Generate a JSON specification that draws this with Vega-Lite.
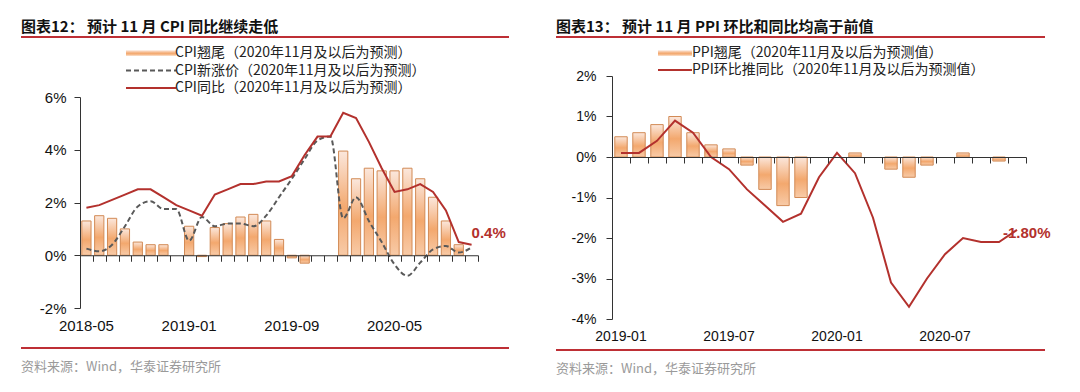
{
  "$schema": "https://vega.github.io/schema/vega-lite/v6.json",
  "background": "white",
  "padding": {"left": 20, "top": 20, "right": 0, "bottom": 0},
  "autosize": {"type": "pad"},
  "config": {"view": {"stroke": null}},
  "spacing": 45,
  "resolve": {"scale": {"x": "independent", "y": "independent", "stroke": "independent", "opacity": "independent", "strokeDash": "independent"}, "legend": {"stroke": "independent", "opacity": "independent", "strokeDash": "independent"}, "axis": {"x": "independent", "y": "independent"}},
  "hconcat": [
    {
      "spacing": 5,
      "resolve": {"scale": {"x": "independent", "y": "independent", "stroke": "independent", "opacity": "independent", "strokeDash": "independent"}, "legend": {"stroke": "independent", "opacity": "independent", "strokeDash": "independent"}, "axis": {"x": "independent", "y": "independent"}},
      "vconcat": [
        {
          "width": 488, "height": 4,
          "data": {"values": [{"part": "header"}]},
          "title": {"text": "图表12：  预计 11 月 CPI 同比继续走低", "anchor": "start", "frame": "group", "font": "Noto Sans CJK SC", "fontSize": 15, "fontWeight": "bold", "color": "#111111", "offset": 1},
          "mark": {"type": "rule", "color": "#be2f35", "strokeWidth": 2},
          "encoding": {"y": {"datum": 1, "type": "quantitative", "scale": {"domain": [0, 1]}, "axis": null}}
        },
        {
          "width": 488, "height": 211,
          "data": {"values": [
            {"month": "2018-05", "carry": 1.3, "newp": 0.25, "yoy": 1.8},
            {"month": "2018-06", "carry": 1.5, "newp": 0.15, "yoy": 1.9},
            {"month": "2018-07", "carry": 1.4, "newp": 0.4, "yoy": 2.1},
            {"month": "2018-08", "carry": 1.0, "newp": 1.1, "yoy": 2.3},
            {"month": "2018-09", "carry": 0.5, "newp": 1.85, "yoy": 2.5},
            {"month": "2018-10", "carry": 0.4, "newp": 2.05, "yoy": 2.5},
            {"month": "2018-11", "carry": 0.4, "newp": 1.75, "yoy": 2.2},
            {"month": "2018-12", "carry": null, "newp": 1.75, "yoy": 1.9},
            {"month": "2019-01", "carry": 1.1, "newp": 0.55, "yoy": 1.7},
            {"month": "2019-02", "carry": -0.05, "newp": 1.45, "yoy": 1.5},
            {"month": "2019-03", "carry": 1.05, "newp": 1.1, "yoy": 2.3},
            {"month": "2019-04", "carry": 1.2, "newp": 1.2, "yoy": 2.5},
            {"month": "2019-05", "carry": 1.45, "newp": 1.2, "yoy": 2.7},
            {"month": "2019-06", "carry": 1.55, "newp": 1.1, "yoy": 2.7},
            {"month": "2019-07", "carry": 1.3, "newp": 1.5, "yoy": 2.8},
            {"month": "2019-08", "carry": 0.6, "newp": 2.2, "yoy": 2.8},
            {"month": "2019-09", "carry": -0.1, "newp": 2.9, "yoy": 3.0},
            {"month": "2019-10", "carry": -0.3, "newp": 3.65, "yoy": 3.8},
            {"month": "2019-11", "carry": null, "newp": 4.35, "yoy": 4.5},
            {"month": "2019-12", "carry": null, "newp": 4.5, "yoy": 4.5},
            {"month": "2020-01", "carry": 3.95, "newp": 1.4, "yoy": 5.4},
            {"month": "2020-02", "carry": 2.9, "newp": 2.2, "yoy": 5.2},
            {"month": "2020-03", "carry": 3.3, "newp": 1.3, "yoy": 4.3},
            {"month": "2020-04", "carry": 3.2, "newp": 0.5, "yoy": 3.3},
            {"month": "2020-05", "carry": 3.2, "newp": -0.35, "yoy": 2.4},
            {"month": "2020-06", "carry": 3.3, "newp": -0.78, "yoy": 2.5},
            {"month": "2020-07", "carry": 2.9, "newp": -0.28, "yoy": 2.7},
            {"month": "2020-08", "carry": 2.2, "newp": 0.22, "yoy": 2.4},
            {"month": "2020-09", "carry": 1.3, "newp": 0.35, "yoy": 1.7},
            {"month": "2020-10", "carry": 0.4, "newp": 0.1, "yoy": 0.5},
            {"month": "2020-11", "carry": null, "newp": 0.3, "yoy": 0.4}
          ]},
          "resolve": {"axis": {"x": "independent"}},
          "layer": [
            {
              "mark": {"type": "bar", "width": {"band": 0.72}, "strokeWidth": 1, "stroke": "#d28a55",
                "fill": {"gradient": "linear", "x1": 0, "y1": 0, "x2": 0, "y2": 1, "stops": [{"offset": 0, "color": "#fbe7dc"}, {"offset": 0.55, "color": "#f3a86e"}, {"offset": 1, "color": "#f8cba8"}]}},
              "encoding": {
                "x": {"field": "month", "type": "ordinal", "sort": "ascending",
                  "scale": {"range": [59, 457], "paddingInner": 0, "paddingOuter": 0},
                  "axis": {"orient": "bottom", "title": null, "domain": false, "ticks": false, "grid": false, "labelAngle": 0, "labelPadding": 10, "labelOverlap": false, "values": ["2018-05", "2019-01", "2019-09", "2020-05"], "labelFont": "Liberation Sans", "labelFontSize": 15, "labelColor": "#111111"}},
                "y": {"field": "carry", "type": "quantitative", "title": null,
                  "scale": {"domain": [-2, 6], "nice": false, "zero": false},
                  "axis": {"orient": "left", "offset": -59, "title": null, "grid": false, "values": [-2, -1, 0, 1, 2, 3, 4, 5, 6], "labelOverlap": false, "labelExpr": "datum.value + '%'", "domainColor": "#333333", "tickColor": "#333333", "tickSize": 6, "labelPadding": 8, "labelFont": "Liberation Sans", "labelFontSize": 15, "labelColor": "#111111"}},
                "opacity": {"datum": "CPI翘尾（2020年11月及以后为预测）", "type": "nominal",
                  "scale": {"range": [1]},
                  "legend": {"orient": "none", "legendX": 103, "legendY": -51, "title": null, "padding": 0,
                    "symbolSize": 100, "symbolType": "M-5,-0.55H5V0.55H-5Z", "symbolOffset": 20, "labelOffset": 17,
                    "symbolStrokeColor": "#d28a55", "symbolStrokeWidth": 1,
                    "labelFont": "Noto Sans CJK SC", "labelFontSize": 14, "labelColor": "#222222", "labelLimit": 400}}
              }
            },
            {
              "mark": {"type": "line", "strokeWidth": 2, "stroke": "#595959", "interpolate": "monotone"},
              "encoding": {
                "x": {"field": "month", "type": "ordinal", "sort": "ascending",
                  "axis": {"orient": "bottom", "offset": -52.75, "title": null, "labels": false, "grid": false, "domain": true, "domainColor": "#333333", "ticks": true, "tickBand": "extent", "tickSize": 6, "tickColor": "#333333", "zindex": 1}},
                "y": {"field": "newp", "type": "quantitative", "title": null},
                "strokeDash": {"datum": "CPI新涨价（2020年11月及以后为预测）", "type": "nominal",
                  "scale": {"range": [[5, 3]]},
                  "legend": {"orient": "none", "legendX": 103, "legendY": -33.5, "title": null, "padding": 0,
                    "symbolSize": 100, "symbolType": "M-5,0H5", "symbolOffset": 20, "labelOffset": 17,
                    "symbolStrokeColor": "#595959", "symbolStrokeWidth": 2,
                    "labelFont": "Noto Sans CJK SC", "labelFontSize": 14, "labelColor": "#222222", "labelLimit": 400}}
              }
            },
            {
              "mark": {"type": "line", "strokeWidth": 2},
              "encoding": {
                "x": {"field": "month", "type": "ordinal", "sort": "ascending", "axis": null},
                "y": {"field": "yoy", "type": "quantitative", "title": null},
                "stroke": {"datum": "CPI同比（2020年11月及以后为预测）", "type": "nominal",
                  "scale": {"range": ["#b3312d"]},
                  "legend": {"orient": "none", "legendX": 103, "legendY": -16, "title": null, "padding": 0,
                    "symbolSize": 100, "symbolType": "M-5,0H5", "symbolOffset": 20, "labelOffset": 17,
                    "symbolStrokeWidth": 2,
                    "labelFont": "Noto Sans CJK SC", "labelFontSize": 14, "labelColor": "#222222", "labelLimit": 400}}
              }
            },
            {
              "transform": [{"filter": "datum.month === '2020-11'"}],
              "mark": {"type": "text", "align": "left", "baseline": "middle", "dx": 0, "dy": -12, "font": "Liberation Sans", "fontSize": 15, "fontWeight": "bold", "color": "#b3312d"},
              "encoding": {
                "x": {"field": "month", "type": "ordinal", "sort": "ascending", "axis": null},
                "y": {"field": "yoy", "type": "quantitative", "title": null},
                "text": {"value": "0.4%"}
              }
            }
          ]
        },
        {
          "width": 488, "height": 10,
          "data": {"values": [{"part": "footer"}]},
          "title": {"text": "资料来源：Wind，华泰证券研究所", "orient": "bottom", "anchor": "start", "frame": "group", "font": "Noto Sans CJK SC", "fontSize": 13, "fontWeight": "normal", "color": "#9a9a9a", "offset": 12},
          "mark": {"type": "rule", "color": "#be2f35", "strokeWidth": 2},
          "encoding": {"y": {"datum": 0, "type": "quantitative", "scale": {"domain": [0, 1]}, "axis": null}}
        }
      ]
    },
    {
      "spacing": 4,
      "resolve": {"scale": {"x": "independent", "y": "independent", "stroke": "independent", "opacity": "independent"}, "legend": {"stroke": "independent", "opacity": "independent"}, "axis": {"x": "independent", "y": "independent"}},
      "vconcat": [
        {
          "width": 489, "height": 5,
          "data": {"values": [{"part": "header"}]},
          "title": {"text": "图表13：  预计 11 月 PPI 环比和同比均高于前值", "anchor": "start", "frame": "group", "font": "Noto Sans CJK SC", "fontSize": 15, "fontWeight": "bold", "color": "#111111", "offset": 1},
          "mark": {"type": "rule", "color": "#be2f35", "strokeWidth": 2},
          "encoding": {"y": {"datum": 1, "type": "quantitative", "scale": {"domain": [0, 1]}, "axis": null}}
        },
        {
          "width": 489, "height": 243,
          "data": {"values": [
            {"month": "2019-01", "carry": 0.5, "yoy": 0.1},
            {"month": "2019-02", "carry": 0.6, "yoy": 0.1},
            {"month": "2019-03", "carry": 0.8, "yoy": 0.4},
            {"month": "2019-04", "carry": 1.0, "yoy": 0.9},
            {"month": "2019-05", "carry": 0.6, "yoy": 0.6},
            {"month": "2019-06", "carry": 0.3, "yoy": 0.0},
            {"month": "2019-07", "carry": 0.2, "yoy": -0.3},
            {"month": "2019-08", "carry": -0.2, "yoy": -0.8},
            {"month": "2019-09", "carry": -0.8, "yoy": -1.2},
            {"month": "2019-10", "carry": -1.2, "yoy": -1.6},
            {"month": "2019-11", "carry": -1.0, "yoy": -1.4},
            {"month": "2019-12", "carry": null, "yoy": -0.5},
            {"month": "2020-01", "carry": null, "yoy": 0.1},
            {"month": "2020-02", "carry": 0.1, "yoy": -0.4},
            {"month": "2020-03", "carry": null, "yoy": -1.5},
            {"month": "2020-04", "carry": -0.3, "yoy": -3.1},
            {"month": "2020-05", "carry": -0.5, "yoy": -3.7},
            {"month": "2020-06", "carry": -0.2, "yoy": -3.0},
            {"month": "2020-07", "carry": null, "yoy": -2.4},
            {"month": "2020-08", "carry": 0.1, "yoy": -2.0},
            {"month": "2020-09", "carry": null, "yoy": -2.1},
            {"month": "2020-10", "carry": -0.1, "yoy": -2.1},
            {"month": "2020-11", "carry": null, "yoy": -1.8}
          ]},
          "resolve": {"axis": {"x": "independent"}},
          "layer": [
            {
              "mark": {"type": "bar", "width": {"band": 0.69}, "strokeWidth": 1, "stroke": "#d28a55",
                "fill": {"gradient": "linear", "x1": 0, "y1": 0, "x2": 0, "y2": 1, "stops": [{"offset": 0, "color": "#fbe7dc"}, {"offset": 0.55, "color": "#f3a86e"}, {"offset": 1, "color": "#f8cba8"}]}},
              "encoding": {
                "x": {"field": "month", "type": "ordinal", "sort": "ascending",
                  "scale": {"range": [56, 470], "paddingInner": 0, "paddingOuter": 0},
                  "axis": {"orient": "bottom", "title": null, "domain": false, "ticks": false, "grid": false, "labelAngle": 0, "labelPadding": 10, "labelOverlap": false, "values": ["2019-01", "2019-07", "2020-01", "2020-07"], "labelFont": "Liberation Sans", "labelFontSize": 14, "labelColor": "#111111"}},
                "y": {"field": "carry", "type": "quantitative", "title": null,
                  "scale": {"domain": [-4, 2], "nice": false, "zero": false},
                  "axis": {"orient": "left", "offset": -56, "title": null, "grid": false, "values": [-4, -3, -2, -1, 0, 1, 2], "labelOverlap": false, "labelExpr": "datum.value + '%'", "domainColor": "#333333", "tickColor": "#333333", "tickSize": 6, "labelPadding": 10, "labelFont": "Liberation Sans", "labelFontSize": 14, "labelColor": "#111111"}},
                "opacity": {"datum": "PPI翘尾（2020年11月及以后为预测值）", "type": "nominal",
                  "scale": {"range": [1]},
                  "legend": {"orient": "none", "legendX": 100, "legendY": -30, "title": null, "padding": 0,
                    "symbolSize": 100, "symbolType": "M-3.4,-0.55H3.4V0.55H-3.4Z", "symbolOffset": 12, "labelOffset": 10,
                    "symbolStrokeColor": "#d28a55", "symbolStrokeWidth": 1,
                    "labelFont": "Noto Sans CJK SC", "labelFontSize": 14, "labelColor": "#222222", "labelLimit": 400}}
              }
            },
            {
              "mark": {"type": "line", "strokeWidth": 2},
              "encoding": {
                "x": {"field": "month", "type": "ordinal", "sort": "ascending",
                  "axis": {"orient": "bottom", "offset": -162, "title": null, "labels": false, "grid": false, "domain": true, "domainColor": "#333333", "ticks": true, "tickBand": "extent", "tickSize": 6, "tickColor": "#333333", "zindex": 1}},
                "y": {"field": "yoy", "type": "quantitative", "title": null},
                "stroke": {"datum": "PPI环比推同比（2020年11月及以后为预测值）", "type": "nominal",
                  "scale": {"range": ["#b3312d"]},
                  "legend": {"orient": "none", "legendX": 100, "legendY": -13, "title": null, "padding": 0,
                    "symbolSize": 100, "symbolType": "M-3.4,0H3.4", "symbolOffset": 12, "labelOffset": 10,
                    "symbolStrokeWidth": 2,
                    "labelFont": "Noto Sans CJK SC", "labelFontSize": 14, "labelColor": "#222222", "labelLimit": 400}}
              }
            },
            {
              "transform": [{"filter": "datum.month === '2020-11'"}],
              "mark": {"type": "text", "align": "left", "baseline": "middle", "dx": -14, "dy": 3, "font": "Liberation Sans", "fontSize": 15, "fontWeight": "bold", "color": "#b3312d"},
              "encoding": {
                "x": {"field": "month", "type": "ordinal", "sort": "ascending", "axis": null},
                "y": {"field": "yoy", "type": "quantitative", "title": null},
                "text": {"value": "-1.80%"}
              }
            }
          ]
        },
        {
          "width": 489, "height": 3,
          "data": {"values": [{"part": "footer"}]},
          "title": {"text": "资料来源：Wind，华泰证券研究所", "orient": "bottom", "anchor": "start", "frame": "group", "font": "Noto Sans CJK SC", "fontSize": 13, "fontWeight": "normal", "color": "#9a9a9a", "offset": 12},
          "mark": {"type": "rule", "color": "#be2f35", "strokeWidth": 2},
          "encoding": {"y": {"datum": 0, "type": "quantitative", "scale": {"domain": [0, 1]}, "axis": null}}
        }
      ]
    }
  ]
}
